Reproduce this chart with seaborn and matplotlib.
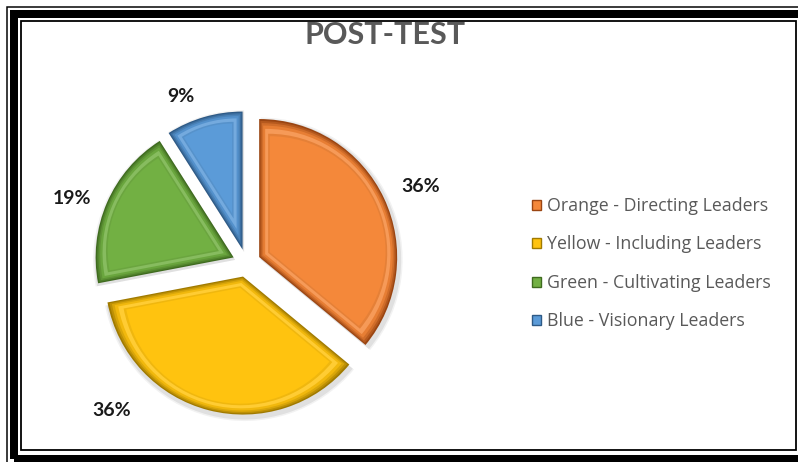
import numpy as np
import matplotlib
matplotlib.use("Agg")
import matplotlib.pyplot as plt
from matplotlib.patches import Wedge, Rectangle, Patch
from matplotlib.colors import to_rgb
import seaborn as sns

# Data
categories = ["Orange - Directing Leaders", "Yellow - Including Leaders",
              "Green - Cultivating Leaders", "Blue - Visionary Leaders"]
values = [36, 36, 19, 9]
face_colors = ["#F4883A", "#FFC30F", "#72B043", "#5B9BD8"]
edge_colors = ["#9A4512", "#A07A00", "#3F6B1F", "#2E5A86"]
title = "POST-TEST"

sns.set_theme(style="white")
plt.rcParams["font.family"] = ["Lato", "DejaVu Sans"]

W, H = 798, 462
fig = plt.figure(figsize=(W / 100, H / 100), dpi=100)
fig.patch.set_facecolor("white")
ax = fig.add_axes([0, 0, 1, 1])
ax.set_xlim(0, W)
ax.set_ylim(0, H)
ax.axis("off")

center = (246.5, 199)
radius = 138
explode_px = 14
wedges, _ = ax.pie(values, colors=face_colors, startangle=90, counterclock=False,
                   explode=[explode_px] * len(values), center=center, radius=radius,
                   wedgeprops=dict(edgecolor="none", linewidth=0))
ax.set_xlim(0, W)
ax.set_ylim(0, H)
ax.set_aspect("equal")


def mix(c1, c2, t):
    a, b = np.array(to_rgb(c1)), np.array(to_rgb(c2))
    return tuple(a + (b - a) * t)


def inset_wedge(w, t):
    """Wedge shrunk inward by a margin t on every side."""
    th1, th2 = w.theta1, w.theta2
    half = np.radians(th2 - th1) / 2
    mid = np.radians((th1 + th2) / 2)
    cx, cy = w.center
    d = t / np.sin(half)
    apex = (cx + d * np.cos(mid), cy + d * np.sin(mid))
    return apex, w.r - t - d, th1, th2


# Bevelled rim: soft shadow, dark outline, graded rim, flat face
for w, fc, ec in zip(wedges, face_colors, edge_colors):
    for k, a in [(4, 0.05), (2.5, 0.07)]:
        ax.add_patch(Wedge((w.center[0] + 1.5, w.center[1] - 2.5), w.r + k,
                           w.theta1, w.theta2, facecolor="#000000", alpha=a,
                           edgecolor="none", zorder=0.5))
    w.set_facecolor(ec)
    w.set_zorder(1)
    steps = [(1.2, 0.3, None), (2.5, 0.6, None), (4.0, 0.85, None),
             (6.0, None, "#ffffff"), (9.0, None, "#000000"), (10.5, None, None)]
    for t, k, tint in steps:
        apex, r, a1, a2 = inset_wedge(w, t)
        if k is not None:
            col = mix(ec, fc, k)
        elif tint == "#ffffff":
            col = mix(fc, "#ffffff", 0.15)
        elif tint == "#000000":
            col = mix(fc, "#000000", 0.06)
        else:
            col = fc
        ax.add_patch(Wedge(apex, r, a1, a2, facecolor=col, edgecolor="none", zorder=1.1))

# Percentage labels
label_xy = [(421, 275), (112, 51), (72, 264), (181, 366)]
for v, (x, y) in zip(values, label_xy):
    ax.text(x, y, f"{v}%", ha="center", va="center", fontsize=14,
            fontweight="bold", color="#1a1a1a", zorder=3)

ax.text(385, 427, title, ha="center", va="center", fontsize=22,
        fontweight="bold", color="#595959", zorder=3)

handles = [Patch(facecolor=fc, edgecolor=ec, linewidth=1.0)
           for fc, ec in zip(face_colors, edge_colors)]
leg = ax.legend(handles, categories, loc="upper left",
                bbox_to_anchor=(532 / W, 1 - 197 / H),
                frameon=False, labelcolor="#595959",
                prop={"family": ["Open Sans", "DejaVu Sans"], "size": 12.8},
                handlelength=0.5, handleheight=0.5, handletextpad=0.35,
                labelspacing=1.15, borderaxespad=0, borderpad=0)

# Double-rule frame around the chart (in pixel units measured from top-left)
frame = [
    # (left, top, right, bottom, line width px)
    (6.5, 6.5, W + 20, H + 20, 1.5),      # outer thin rule
    (13.5, 13.5, W + 20, 458.5, 8.0),     # thick rule
    (20.5, 20.5, 795.5, 450.0, 1.8),      # inner thin rule
]
for x0, y0, x1, y1, lw in frame:
    ax.add_patch(Rectangle((x0, H - y1), x1 - x0, y1 - y0, fill=False,
                           edgecolor="black", linewidth=lw * 72 / 100,
                           zorder=4, clip_on=False))

fig.savefig("out.png", dpi=100, facecolor="white")
